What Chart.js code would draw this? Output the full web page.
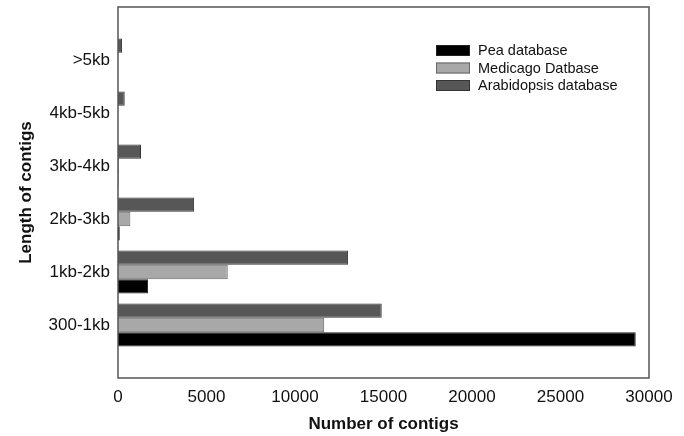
<!DOCTYPE html>
<html>
<head>
<meta charset="utf-8">
<script src="https://cdn.jsdelivr.net/npm/chart.js@4.4.0/dist/chart.umd.min.js"></script>
<style>
  html, body { margin: 0; padding: 0; background: #fff; }
  #wrap { width: 684px; height: 436px; }
</style>
</head>
<body>
<div id="wrap"><canvas id="contigChart" width="684" height="436"></canvas></div>
<script>
// contig length classes, bottom to top (blank slots pad the axis like the original)
const lengthLabels = ['', '300-1kb', '1kb-2kb', '2kb-3kb', '3kb-4kb', '4kb-5kb', '>5kb', ''];

// number of contigs per database
const peaCounts = [null, 29250, 1700, 100, 30, 0, 0, null];
const medicagoCounts = [null, 11650, 6200, 700, 60, 0, 0, null];
const arabidopsisCounts = [null, 14900, 13000, 4300, 1300, 380, 230, null];

const xTicks = [0, 5000, 10000, 15000, 20000, 25000, 30000];

const fontFamily = '"Liberation Sans", Arial, sans-serif';

// frame round the plot area and the legend in the upper right
const framePlugin = {
    id: 'frameAndLegend',
    afterDraw(chart) {
        const { ctx, chartArea } = chart;
        ctx.save();
        ctx.strokeStyle = '#555';
        ctx.lineWidth = 1.5;
        ctx.strokeRect(chartArea.left, chartArea.top, chartArea.right - chartArea.left, chartArea.bottom - chartArea.top);

        // legend goes Pea, Medicago, Arabidopsis (reverse of the dataset order)
        let y = 45;
        chart.data.datasets.slice().reverse().forEach(ds => {
            ctx.fillStyle = ds.backgroundColor;
            ctx.fillRect(436, y, 34, 11);
            ctx.strokeStyle = ds.borderColor;
            ctx.lineWidth = 1;
            ctx.strokeRect(436.5, y + 0.5, 33, 10);
            ctx.fillStyle = '#111';
            ctx.font = '14.5px ' + fontFamily;
            ctx.textBaseline = 'middle';
            ctx.fillText(ds.label, 478, y + 6);
            y += 17.5;
        });
        ctx.restore();
    }
};

const ctx = document.getElementById('contigChart').getContext('2d');

new Chart(ctx, {
    type: 'bar',
    data: {
        labels: lengthLabels,
        datasets: [
            {
                label: 'Arabidopsis database',
                data: arabidopsisCounts,
                backgroundColor: '#575757',
                borderColor: '#333333',
                borderWidth: 1
            },
            {
                label: 'Medicago Datbase',
                data: medicagoCounts,
                backgroundColor: '#a8a8a8',
                borderColor: '#666666',
                borderWidth: 1
            },
            {
                label: 'Pea database',
                data: peaCounts,
                backgroundColor: '#000000',
                borderColor: '#222222',
                borderWidth: 1
            }
        ]
    },
    options: {
        indexAxis: 'y',
        responsive: false,
        animation: false,
        layout: { padding: { top: 7, right: 35, left: 12, bottom: 0 } },
        datasets: {
            bar: { categoryPercentage: 0.81, barPercentage: 1.0 }
        },
        plugins: {
            legend: { display: false },
            tooltip: { enabled: false }
        },
        scales: {
            x: {
                type: 'linear',
                min: 0,
                max: 30000,
                afterBuildTicks: scale => { scale.ticks = xTicks.map(v => ({ value: v })); },
                afterFit: scale => { scale.height = 58; },
                grid: { display: false, drawTicks: false },
                border: { display: false },
                ticks: {
                    padding: 9,
                    color: '#111',
                    font: { family: fontFamily, size: 17 },
                    maxRotation: 0,
                    callback: value => String(value)
                },
                title: {
                    display: true,
                    text: 'Number of contigs',
                    color: '#111',
                    font: { family: fontFamily, size: 17, weight: 'bold' },
                    padding: { top: 9, bottom: 1 }
                }
            },
            y: {
                reverse: true,
                offset: false,
                afterFit: scale => {
                    scale.width = 106;
                    scale.paddingTop = 0;
                    scale.paddingBottom = 0;
                },
                grid: { display: false, drawTicks: false },
                border: { display: false },
                ticks: {
                    padding: 8,
                    color: '#111',
                    font: { family: fontFamily, size: 17 }
                },
                title: {
                    display: true,
                    text: 'Length of contigs',
                    color: '#111',
                    font: { family: fontFamily, size: 17, weight: 'bold' },
                    padding: { bottom: 4 }
                }
            }
        }
    },
    plugins: [framePlugin]
});
</script>
</body>
</html>
